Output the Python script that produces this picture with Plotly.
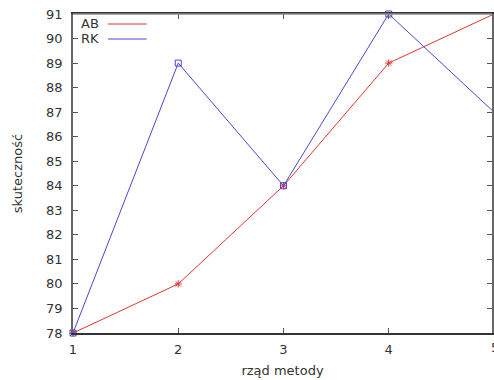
import plotly.graph_objects as go

x_order = [1, 2, 3, 4, 5]
ab_values = [78, 80, 84, 89, 91]
rk_values = [78, 89, 84, 91, 87]
y_ticks = list(range(78, 92))
series_names = ["AB", "RK"]

RED = "rgb(228,52,52)"
BLUE = "rgb(72,72,212)"
FONT = "DejaVu Sans"
TXT = "#333333"

fig = go.Figure()
fig.add_trace(go.Scatter(
    x=x_order, y=ab_values, mode="lines+markers", name=series_names[0],
    line=dict(color=RED, width=1),
    marker=dict(symbol="asterisk-open", size=6, color=RED, line=dict(color=RED, width=1)),
    cliponaxis=False, showlegend=False))
fig.add_trace(go.Scatter(
    x=x_order, y=rk_values, mode="lines+markers", name=series_names[1],
    line=dict(color=BLUE, width=1),
    marker=dict(symbol="square-open", size=6, color=BLUE, line=dict(color=BLUE, width=1)),
    cliponaxis=False, showlegend=False))

W, H = 494, 380
# plot area in page pixels: left 73, top 14, right 494, bottom 333
PL, PT, PR, PB = 73, 14, 494, 333
L, T, R, B = PL, PT, W - PR, H - PB
pw = PR - PL
ph = PB - PT
x_per_unit = 105.75
xmax = 1 + pw / x_per_unit


def px_x(p):
    return (p - PL) / pw


def px_y(p):
    return 1 - (p - PT) / ph


# manual gnuplot-style legend (text then line sample)
for name, col, ypix in [(series_names[0], RED, 24), (series_names[1], BLUE, 39)]:
    fig.add_annotation(xref="paper", yref="paper", x=px_x(79), y=px_y(ypix),
                       text=name, showarrow=False, xanchor="left", yanchor="middle",
                       font=dict(family=FONT, size=13, color=TXT))
    fig.add_shape(type="line", xref="paper", yref="paper",
                  x0=px_x(108), x1=px_x(147), y0=px_y(ypix), y1=px_y(ypix),
                  line=dict(color=col, width=1))

# top border in gray
fig.add_shape(type="line", xref="paper", yref="paper", x0=0, x1=1, y0=1, y1=1,
              line=dict(color="#8a8a8a", width=1.5), layer="above")

# cut-off tick label at x=5
fig.add_annotation(xref="paper", yref="paper", x=px_x(497), y=px_y(347),
                   text="5", showarrow=False, xanchor="center", yanchor="middle",
                   font=dict(family=FONT, size=13, color=TXT))

fig.update_layout(
    width=W, height=H,
    margin=dict(l=L, r=R, t=T, b=B, pad=0),
    paper_bgcolor="white", plot_bgcolor="white",
    font=dict(family=FONT, size=13, color=TXT),
    xaxis=dict(range=[1, xmax], tickvals=x_order[:4], ticks="inside", ticklen=5,
               tickcolor="#555", showline=True, linecolor="#333", linewidth=1.5,
               mirror="ticks", showgrid=False, zeroline=False,
               title=dict(text="rząd metody", standoff=10,
                          font=dict(family=FONT, size=13, color=TXT)),
               ticklabelstandoff=4, ticklabeloverflow="allow"),
    yaxis=dict(range=[78, 91], tickvals=y_ticks, ticks="inside", ticklen=5,
               tickcolor="#555", showline=True, linecolor="#666", linewidth=1.5,
               mirror="ticks", showgrid=False, zeroline=False,
               title=dict(text="skuteczność", standoff=21,
                          font=dict(family=FONT, size=13, color=TXT)),
               ticklabelstandoff=6, ticklabeloverflow="allow"),
)

fig.write_html(
    "out.html",
    config={"displayModeBar": False},
    post_script="document.body.style.margin='0';document.body.style.overflow='hidden';",
)
